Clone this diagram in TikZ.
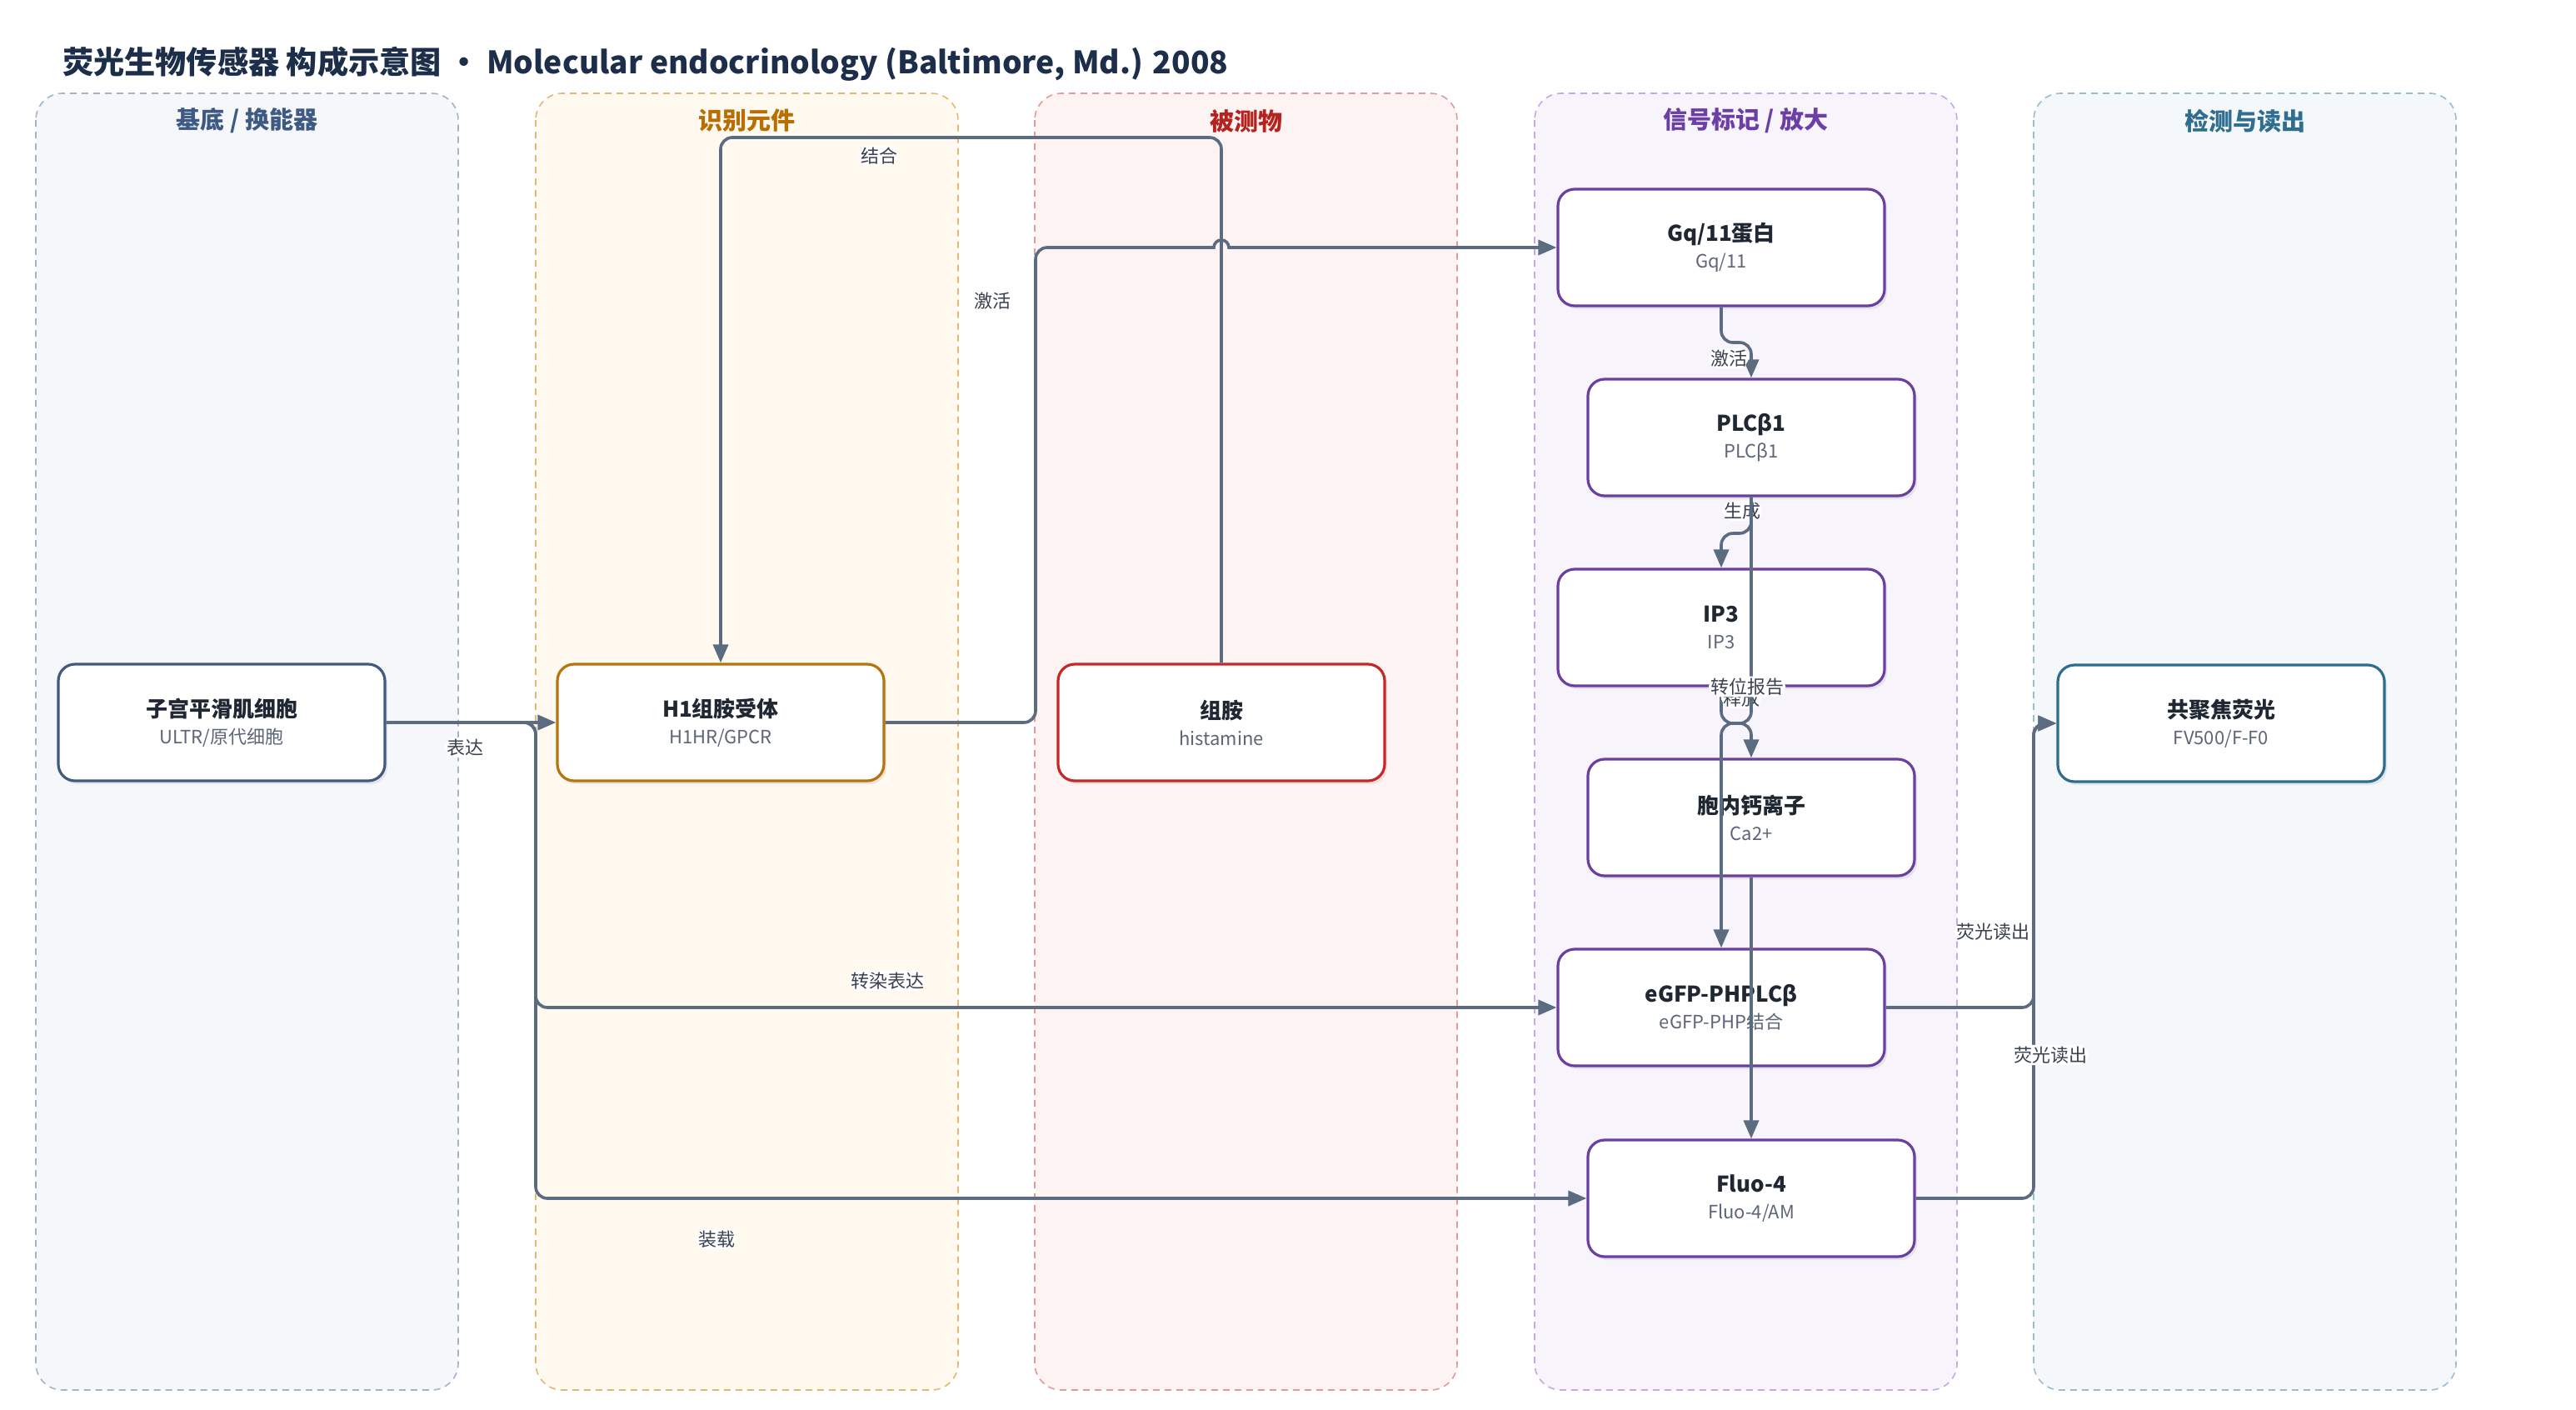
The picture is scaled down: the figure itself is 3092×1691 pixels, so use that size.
\documentclass[tikz,border=0pt]{standalone}
\usepackage{fontspec}
\setmainfont{Noto Sans CJK SC}
\usepackage{xcolor}
\usetikzlibrary{arrows.meta,shadows}

\definecolor{titletx}{HTML}{1C2E4A}
\definecolor{nodetx}{HTML}{1F2733}
\definecolor{subtx}{HTML}{5C6677}
\definecolor{lbltx}{HTML}{3A4250}
\definecolor{edge}{HTML}{5B6B80}
%% lane fill / dash / header
\definecolor{l1f}{HTML}{F5F7FB}\definecolor{l1d}{HTML}{A3B3CB}\definecolor{l1h}{HTML}{3F5A82}
\definecolor{l2f}{HTML}{FFF9F0}\definecolor{l2d}{HTML}{E3B970}\definecolor{l2h}{HTML}{B86E00}
\definecolor{l3f}{HTML}{FDF3F3}\definecolor{l3d}{HTML}{E29A9A}\definecolor{l3h}{HTML}{B5231F}
\definecolor{l4f}{HTML}{F7F4FC}\definecolor{l4d}{HTML}{C7A8E4}\definecolor{l4h}{HTML}{6B3FA5}
\definecolor{l5f}{HTML}{F4F8FA}\definecolor{l5d}{HTML}{98BDCF}\definecolor{l5h}{HTML}{2F6E8E}
%% node borders
\definecolor{n1}{HTML}{415A80}
\definecolor{n2}{HTML}{B7730C}
\definecolor{n3}{HTML}{C62828}
\definecolor{n4}{HTML}{6A3FA0}
\definecolor{n5}{HTML}{2E6E8C}

\newcommand{\subf}{\mdseries\fontsize{11}{13.5}\selectfont\color{subtx}}

\begin{document}
\begin{tikzpicture}[
  x=0.5pt, y=-0.5pt,
  lane/.style={line width=0.8pt, dash pattern=on 4pt off 3pt, rounded corners=16pt},
  head/.style={font=\bfseries\fontsize{14.5}{17}\selectfont},
  box/.style={draw, line width=1.6pt, rounded corners=10pt, fill=white,
              minimum width=196pt, minimum height=70pt, align=center,
              font=\bfseries\fontsize{13}{16}\selectfont, text=nodetx,
              execute at begin node={\rule{0pt}{20pt}},
              drop shadow={opacity=.15, shadow xshift=1.5pt, shadow yshift=-2pt}},
  lbl/.style={fill=white, inner sep=1pt, text=lbltx, font=\fontsize{11}{13}\selectfont},
  ar/.style={draw=edge, line width=1.8pt, rounded corners=7pt,
             -{Triangle[length=11pt,width=9pt]}}
]
\fill[white] (0,0) rectangle (3092,1691);
\useasboundingbox (0,0) rectangle (3092,1691);

%% ---- title and lanes ------------------------------------------------------
\node[anchor=west, font=\bfseries\fontsize{18.6}{23}\selectfont, text=titletx] (title) at (68,77)
  {荧光生物传感器 构成示意图 • Molecular endocrinology (Baltimore, Md.) 2008};

\foreach \lx/\lf/\ld/\lh/\lt in {43/l1f/l1d/l1h/{基底 / 换能器}, 643/l2f/l2d/l2h/{识别元件},
    1242/l3f/l3d/l3h/{被测物}, 1842/l4f/l4d/l4h/{信号标记 / 放大}, 2441/l5f/l5d/l5h/{检测与读出}} {
  \draw[lane, draw=\ld, fill=\lf] (\lx,112) rectangle ++(507,1556);
  \node[head, text=\lh] at (\lx+253.5,145) {\lt};
}

%% ---- nodes ----------------------------------------------------------------
\node[box, draw=n1] (cell) at (266,867)  {子宫平滑肌细胞\\{\subf ULTR/原代细胞}};
\node[box, draw=n2] (h1r)  at (865,867)  {H1组胺受体\\{\subf H1HR/GPCR}};
\node[box, draw=n3] (hist) at (1466,867) {组胺\\{\subf histamine}};
\node[box, draw=n4] (gq)   at (2066,297) {Gq/11蛋白\\{\subf Gq/11}};
\node[box, draw=n4] (plc)  at (2102,525) {PLCβ1\\{\subf PLCβ1}};
\node[box, draw=n4] (ip3)  at (2066,753) {IP3\\{\subf IP3}};
\node[box, draw=n4] (ca)   at (2102,981) {胞内钙离子\\{\subf Ca2+}};
\node[box, draw=n4] (egfp) at (2066,1209) {eGFP-PHPLCβ\\{\subf eGFP-PHP结合}};
\node[box, draw=n4] (fluo) at (2102,1438) {Fluo-4\\{\subf Fluo-4/AM}};
\node[box, draw=n5] (conf) at (2666,868) {共聚焦荧光\\{\subf FV500/F-F0}};

%% ---- connectors -----------------------------------------------------------
\draw[ar] (cell.east) -- (h1r.west) node[lbl] at (558,897) {表达};
\draw[ar] (cell.east) -- (643,867) -- (643,1209) -- (egfp.west) node[lbl] at (1065,1177) {转染表达};
\draw[ar] (cell.east) -- (643,867) -- (643,1438) -- (fluo.west) node[lbl] at (860,1487) {装载};
\draw[ar] (hist.north) -- (1466,165) -- (865,165) -- (h1r.north) node[lbl] at (1055,187) {结合};
\draw[ar] (h1r.east) -- (1243,867) -- (1243,297) -- (1300,297)
  {[sharp corners] -- (1457,297) arc[start angle=180, end angle=0, radius=4.5pt] -- (gq.west)}
  node[lbl] at (1191,361) {激活};
\draw[ar] (gq.south) -- (2066,411) -- (2102,411) -- (plc.north) node[lbl] at (2075,430) {激活};
\draw[ar] (ca.south) -- (fluo.north);
\draw[ar] (egfp.east) -- (2441,1209) -- (2441,868) -- (conf.west) node[lbl] at (2392,1118) {荧光读出};
\draw[ar] (fluo.east) -- (2441,1438) -- (2441,868) -- (conf.west) node[lbl] at (2461,1266) {荧光读出};
\draw[ar] (plc.south) -- (2102,640) -- (2066,640) -- (ip3.north) node[lbl] at (2091,613) {生成};
\draw[ar] (ip3.south) -- (2066,868) -- (2102,868) -- (ca.north) node[lbl] at (2090,838) {释放};
\draw[ar] (plc.south) -- (2102,868) -- (2066,868) -- (egfp.north) node[lbl] at (2097,824) {转位报告};
\end{tikzpicture}
\end{document}
